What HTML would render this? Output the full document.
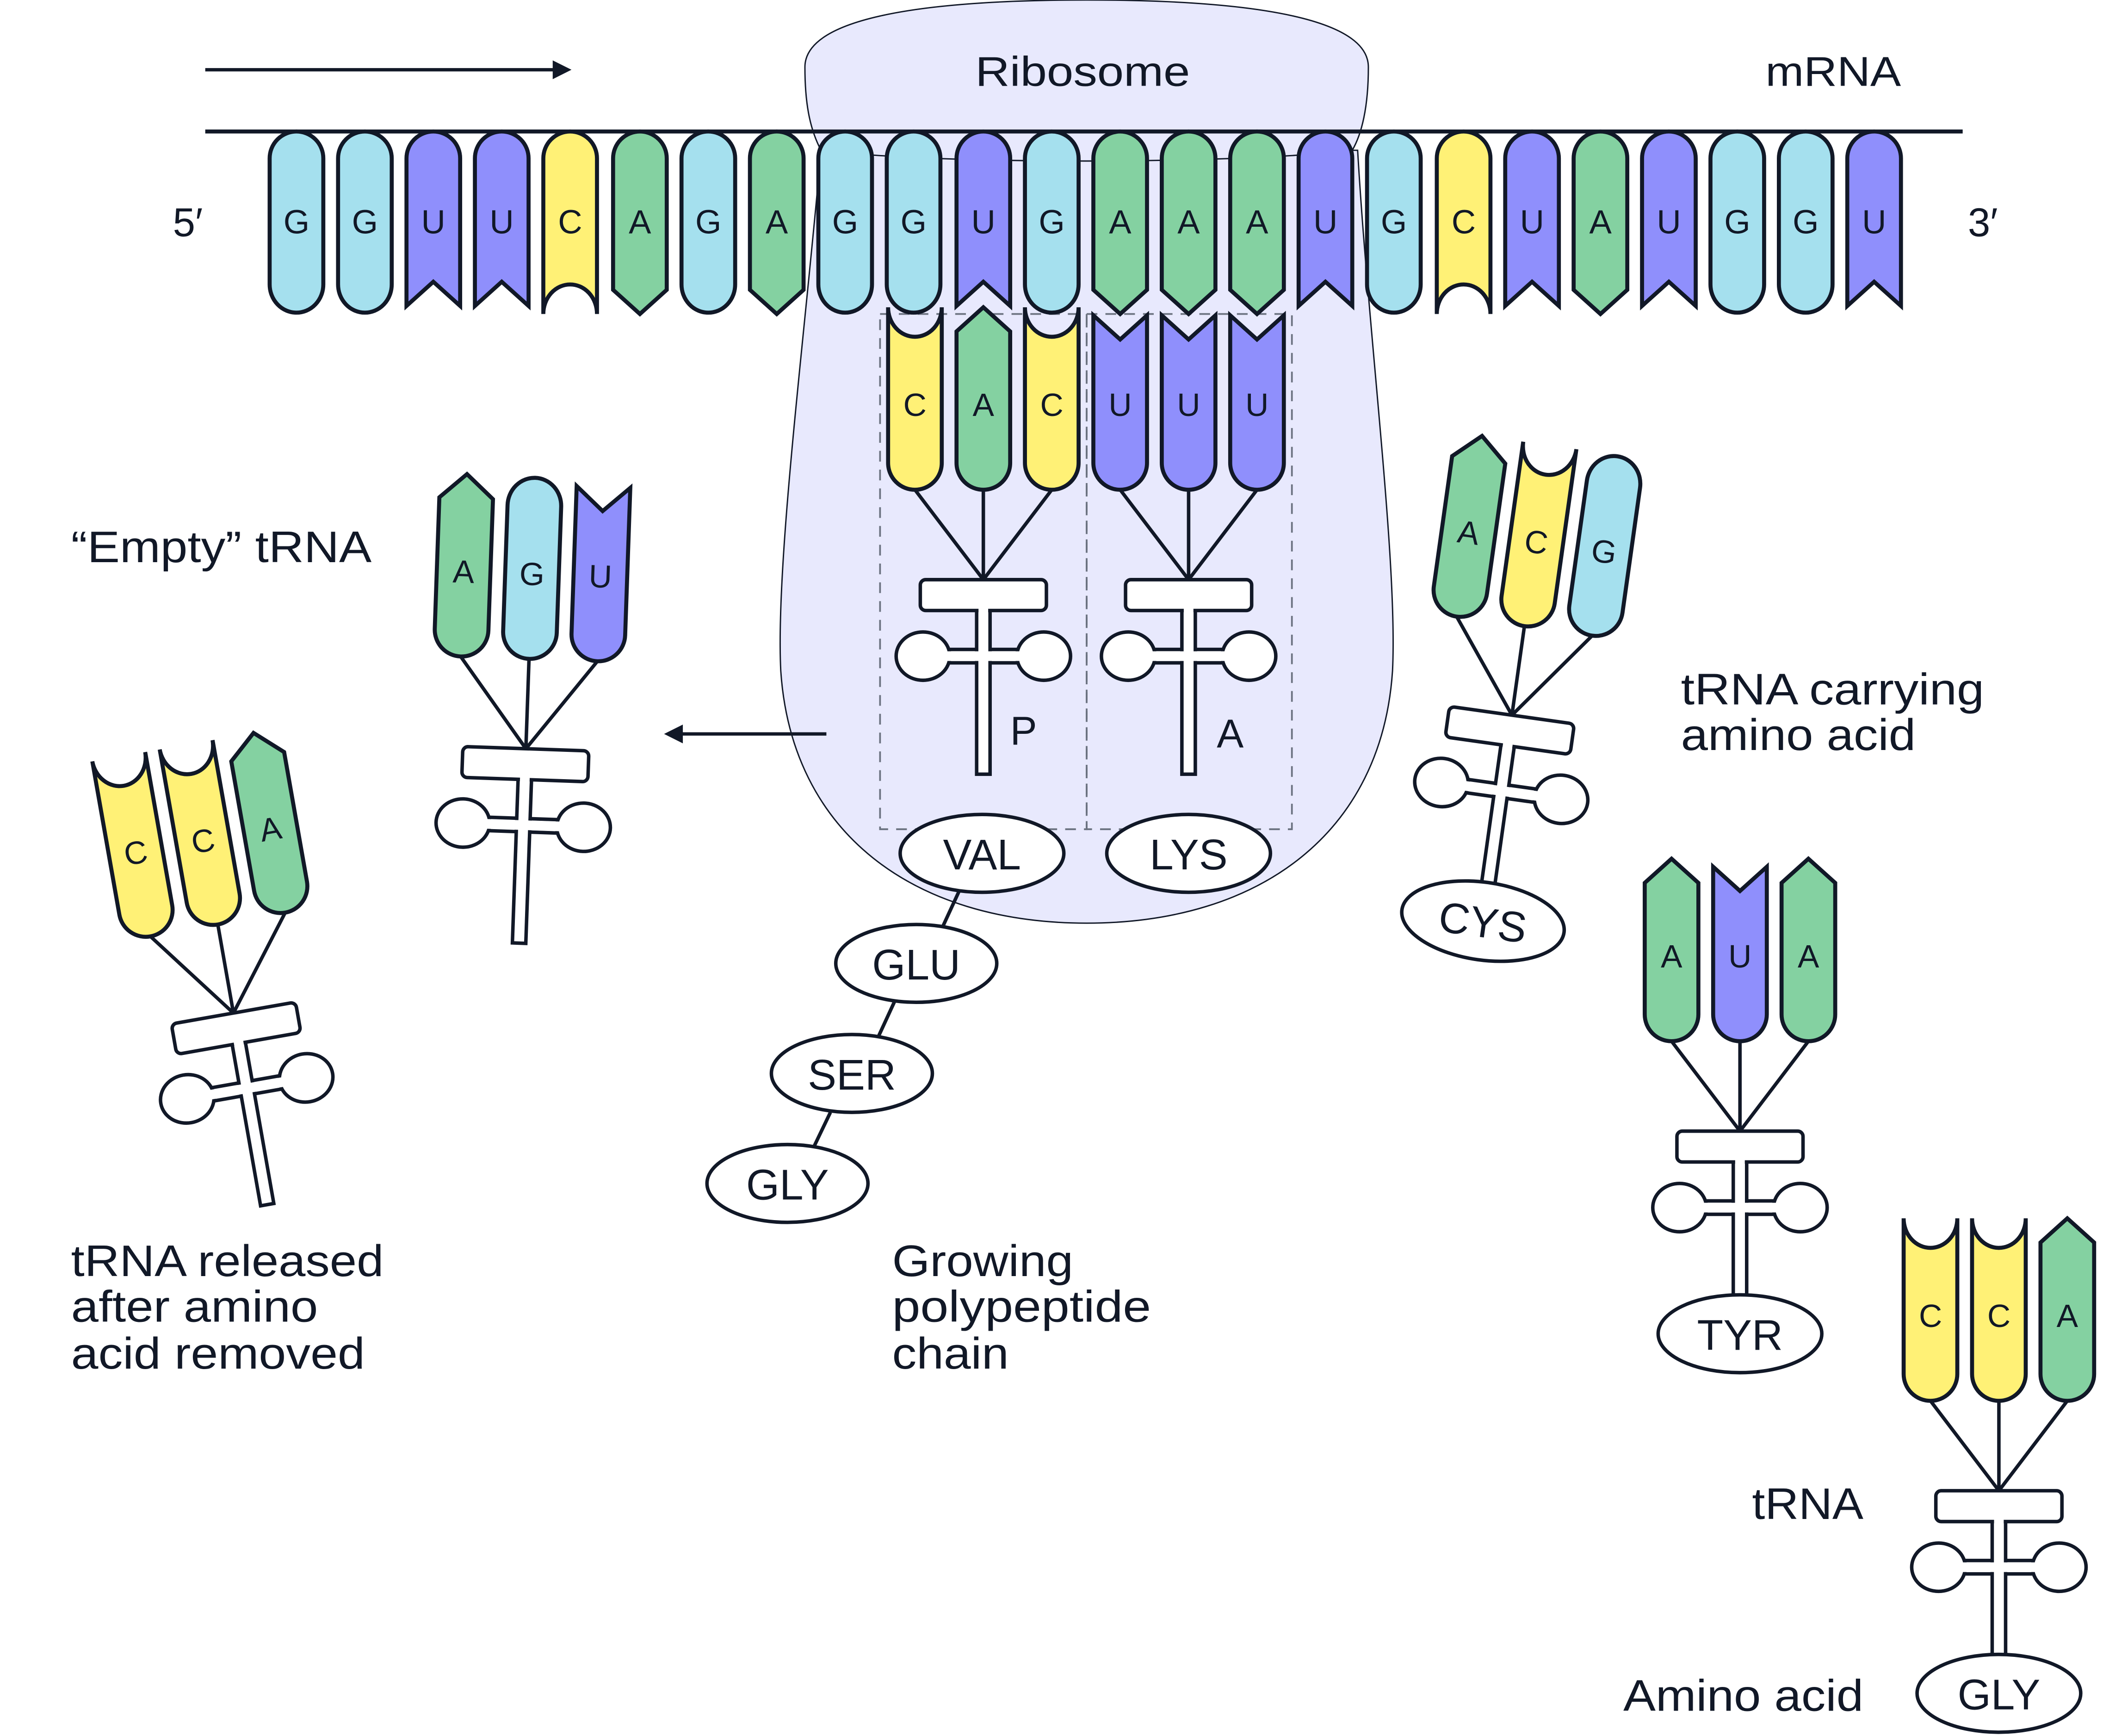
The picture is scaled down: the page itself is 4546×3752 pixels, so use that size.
<!DOCTYPE html>
<html><head><meta charset="utf-8"><style>
html,body{margin:0;padding:0;background:#fff;}
svg{display:block;}
text{font-family:"Liberation Sans",sans-serif;fill:#111827;}
</style></head><body>
<svg width="4546" height="3752" viewBox="0 0 1567.6 1293.8" xmlns="http://www.w3.org/2000/svg">
<defs>
<path id="nG" d="M-20,20A20,20 0 0 1 20,20V114A20,21 0 0 1 -20,114Z" fill="#a5e0ee" stroke="#111827" stroke-width="3"/>
<path id="nU" d="M-20,20A20,20 0 0 1 20,20V130L0,112L-20,130Z" fill="#8f8ffc" stroke="#111827" stroke-width="3"/>
<path id="nC" d="M-20,20A20,20 0 0 1 20,20V136A20,22 0 0 0 -20,136Z" fill="#fff176" stroke="#111827" stroke-width="3"/>
<path id="nA" d="M-20,20A20,20 0 0 1 20,20V118L0,136L-20,118Z" fill="#84d1a1" stroke="#111827" stroke-width="3"/>
<g id="body" stroke="#111827" stroke-width="2.6">
 <path d="M-51,-67L0,0M0,-67L0,0M51,-67L0,0" fill="none"/>
 <rect x="-30" y="52" width="60" height="10" fill="#fff"/>
 <rect x="-5" y="20" width="10" height="125" fill="#fff"/>
 <ellipse cx="-45" cy="57" rx="20" ry="18" fill="#fff"/>
 <ellipse cx="45" cy="57" rx="20" ry="18" fill="#fff"/>
 <rect x="-47" y="0" width="94" height="23" rx="4" fill="#fff"/>
 <rect x="-28" y="53.4" width="56" height="7.2" fill="#fff" stroke="none"/>
 <rect x="-3.6" y="21.5" width="7.2" height="122" fill="#fff" stroke="none"/>
</g>
</defs>

<!-- ribosome -->
<path d="M612,112 C600,250 578,420 582,500 C590,620 680,688 810,688 C940,688 1030,620 1038,500 C1042,420 1020,250 1012,112 Z" fill="#e8e9fd" stroke="#111827" stroke-width="1"/>
<path d="M600,50 C600,15 680,0 810,0 C940,0 1020,15 1020,50 C1020,80 1015,100 1008,112 C960,118 870,120 810,120 C740,120 660,118 612,112 C603,95 600,75 600,50 Z" fill="#e8e9fd" stroke="#111827" stroke-width="1"/>
<text x="727" y="64" font-size="31" textLength="160" lengthAdjust="spacingAndGlyphs">Ribosome</text>

<!-- dashed sites -->
<g fill="none" stroke="#6b7280" stroke-width="1.3" stroke-dasharray="8,6">
<rect x="656" y="234" width="154" height="384"/>
<rect x="810" y="234" width="153" height="384"/>
</g>

<!-- arrows and lines -->
<line x1="153" y1="52" x2="415" y2="52" stroke="#111827" stroke-width="2.5"/>
<path d="M426,52 L412,45 L412,59 Z" fill="#111827"/>
<line x1="153" y1="98" x2="1463" y2="98" stroke="#111827" stroke-width="3"/>
<line x1="616" y1="547" x2="506" y2="547" stroke="#111827" stroke-width="2.5"/>
<path d="M495,547 L509,540 L509,554 Z" fill="#111827"/>

<text x="140" y="176" font-size="30" text-anchor="middle">5′</text>
<text x="1478" y="176" font-size="30" text-anchor="middle">3′</text>
<text x="1316" y="64" font-size="31" textLength="101" lengthAdjust="spacingAndGlyphs">mRNA</text>

<!-- mRNA -->
<g font-size="25" text-anchor="middle">
<use href="#nG" x="221" y="98"/><text x="221" y="174">G</text>
<use href="#nG" x="272" y="98"/><text x="272" y="174">G</text>
<use href="#nU" x="323" y="98"/><text x="323" y="174">U</text>
<use href="#nU" x="374" y="98"/><text x="374" y="174">U</text>
<use href="#nC" x="425" y="98"/><text x="425" y="174">C</text>
<use href="#nA" x="477" y="98"/><text x="477" y="174">A</text>
<use href="#nG" x="528" y="98"/><text x="528" y="174">G</text>
<use href="#nA" x="579" y="98"/><text x="579" y="174">A</text>
<use href="#nG" x="630" y="98"/><text x="630" y="174">G</text>
<use href="#nG" x="681" y="98"/><text x="681" y="174">G</text>
<use href="#nU" x="733" y="98"/><text x="733" y="174">U</text>
<use href="#nG" x="784" y="98"/><text x="784" y="174">G</text>
<use href="#nA" x="835" y="98"/><text x="835" y="174">A</text>
<use href="#nA" x="886" y="98"/><text x="886" y="174">A</text>
<use href="#nA" x="937" y="98"/><text x="937" y="174">A</text>
<use href="#nU" x="988" y="98"/><text x="988" y="174">U</text>
<use href="#nG" x="1039" y="98"/><text x="1039" y="174">G</text>
<use href="#nC" x="1091" y="98"/><text x="1091" y="174">C</text>
<use href="#nU" x="1142" y="98"/><text x="1142" y="174">U</text>
<use href="#nA" x="1193" y="98"/><text x="1193" y="174">A</text>
<use href="#nU" x="1244" y="98"/><text x="1244" y="174">U</text>
<use href="#nG" x="1295" y="98"/><text x="1295" y="174">G</text>
<use href="#nG" x="1346" y="98"/><text x="1346" y="174">G</text>
<use href="#nU" x="1397" y="98"/><text x="1397" y="174">U</text>
</g>

<!-- P site tRNA -->
<g transform="translate(733,432)" font-size="24" text-anchor="middle">
<use href="#body"/>
<use href="#nC" transform="translate(-51,-67) scale(1,-1)"/><text x="-51" y="-122">C</text>
<use href="#nA" transform="translate(0,-67) scale(1,-1)"/><text x="0" y="-122">A</text>
<use href="#nC" transform="translate(51,-67) scale(1,-1)"/><text x="51" y="-122">C</text>
</g>
<text x="763" y="555" font-size="30" text-anchor="middle">P</text>
<!-- A site tRNA -->
<g transform="translate(886,432)" font-size="24" text-anchor="middle">
<use href="#body"/>
<use href="#nU" transform="translate(-51,-67) scale(1,-1)"/><text x="-51" y="-122">U</text>
<use href="#nU" transform="translate(0,-67) scale(1,-1)"/><text x="0" y="-122">U</text>
<use href="#nU" transform="translate(51,-67) scale(1,-1)"/><text x="51" y="-122">U</text>
</g>
<text x="917" y="557" font-size="30" text-anchor="middle">A</text>

<!-- polypeptide -->
<g stroke="#111827" stroke-width="2.6">
<line x1="715" y1="664" x2="703" y2="690"/>
<line x1="667" y1="746" x2="655" y2="772"/>
<line x1="619" y1="829" x2="607" y2="854"/>
<ellipse cx="732" cy="636" rx="61" ry="29" fill="#fff"/>
<ellipse cx="886" cy="636" rx="61" ry="29" fill="#fff"/>
<ellipse cx="683" cy="718" rx="60" ry="29" fill="#fff"/>
<ellipse cx="635" cy="800" rx="60" ry="29" fill="#fff"/>
<ellipse cx="587" cy="882" rx="60" ry="29" fill="#fff"/>
</g>
<g font-size="32" text-anchor="middle">
<text x="732" y="648">VAL</text>
<text x="886" y="648">LYS</text>
<text x="683" y="730">GLU</text>
<text x="635" y="812">SER</text>
<text x="587" y="894">GLY</text>
</g>

<!-- empty tRNA -->
<g transform="translate(392,558) rotate(2)" font-size="24" text-anchor="middle">
<use href="#body"/>
<use href="#nA" transform="translate(-51,-67) scale(1,-1)"/><text x="-51" y="-122">A</text>
<use href="#nG" transform="translate(0,-67) scale(1,-1)"/><text x="0" y="-122">G</text>
<use href="#nU" transform="translate(51,-67) scale(1,-1)"/><text x="51" y="-122">U</text>
</g>

<!-- released tRNA -->
<g transform="translate(174,755) rotate(-10)" font-size="24" text-anchor="middle">
<use href="#body"/>
<use href="#nC" transform="translate(-51,-67) scale(1,-1)"/><text x="-51" y="-122">C</text>
<use href="#nC" transform="translate(0,-67) scale(1,-1)"/><text x="0" y="-122">C</text>
<use href="#nA" transform="translate(51,-67) scale(1,-1)"/><text x="51" y="-122">A</text>
</g>

<!-- CYS tRNA -->
<g transform="translate(1127,533) rotate(8)" font-size="24" text-anchor="middle">
<use href="#body"/>
<use href="#nA" transform="translate(-51,-67) scale(1,-1)"/><text x="-51" y="-122">A</text>
<use href="#nC" transform="translate(0,-67) scale(1,-1)"/><text x="0" y="-122">C</text>
<use href="#nG" transform="translate(51,-67) scale(1,-1)"/><text x="51" y="-122">G</text>
<ellipse cx="0" cy="155" rx="61" ry="29" fill="#fff" stroke="#111827" stroke-width="2.6"/>
<text x="0" y="167" font-size="32">CYS</text>
</g>

<!-- TYR tRNA -->
<g transform="translate(1297,843)" font-size="24" text-anchor="middle">
<use href="#body"/>
<use href="#nA" transform="translate(-51,-67) scale(1,-1)"/><text x="-51" y="-122">A</text>
<use href="#nU" transform="translate(0,-67) scale(1,-1)"/><text x="0" y="-122">U</text>
<use href="#nA" transform="translate(51,-67) scale(1,-1)"/><text x="51" y="-122">A</text>
<ellipse cx="0" cy="151" rx="61" ry="29" fill="#fff" stroke="#111827" stroke-width="2.6"/>
<text x="0" y="163" font-size="32">TYR</text>
</g>

<!-- GLY tRNA -->
<g transform="translate(1490,1111)" font-size="24" text-anchor="middle">
<use href="#body"/>
<use href="#nC" transform="translate(-51,-67) scale(1,-1)"/><text x="-51" y="-122">C</text>
<use href="#nC" transform="translate(0,-67) scale(1,-1)"/><text x="0" y="-122">C</text>
<use href="#nA" transform="translate(51,-67) scale(1,-1)"/><text x="51" y="-122">A</text>
<ellipse cx="0" cy="151" rx="61" ry="29" fill="#fff" stroke="#111827" stroke-width="2.6"/>
<text x="0" y="163" font-size="32">GLY</text>
</g>

<!-- labels -->
<g font-size="33">
<text x="53" y="419" textLength="224" lengthAdjust="spacingAndGlyphs">“Empty” tRNA</text>
<text x="1253" y="525" textLength="226" lengthAdjust="spacingAndGlyphs">tRNA carrying</text>
<text x="1253" y="559" textLength="175" lengthAdjust="spacingAndGlyphs">amino acid</text>
<text x="53" y="951" textLength="233" lengthAdjust="spacingAndGlyphs">tRNA released</text>
<text x="53" y="985" textLength="184" lengthAdjust="spacingAndGlyphs">after amino</text>
<text x="53" y="1020" textLength="219" lengthAdjust="spacingAndGlyphs">acid removed</text>
<text x="665" y="951" textLength="135" lengthAdjust="spacingAndGlyphs">Growing</text>
<text x="665" y="985" textLength="193" lengthAdjust="spacingAndGlyphs">polypeptide</text>
<text x="665" y="1020" textLength="87" lengthAdjust="spacingAndGlyphs">chain</text>
<text x="1306" y="1132" textLength="83" lengthAdjust="spacingAndGlyphs">tRNA</text>
<text x="1210" y="1275" textLength="179" lengthAdjust="spacingAndGlyphs">Amino acid</text>
</g>
</svg>
</body></html>
